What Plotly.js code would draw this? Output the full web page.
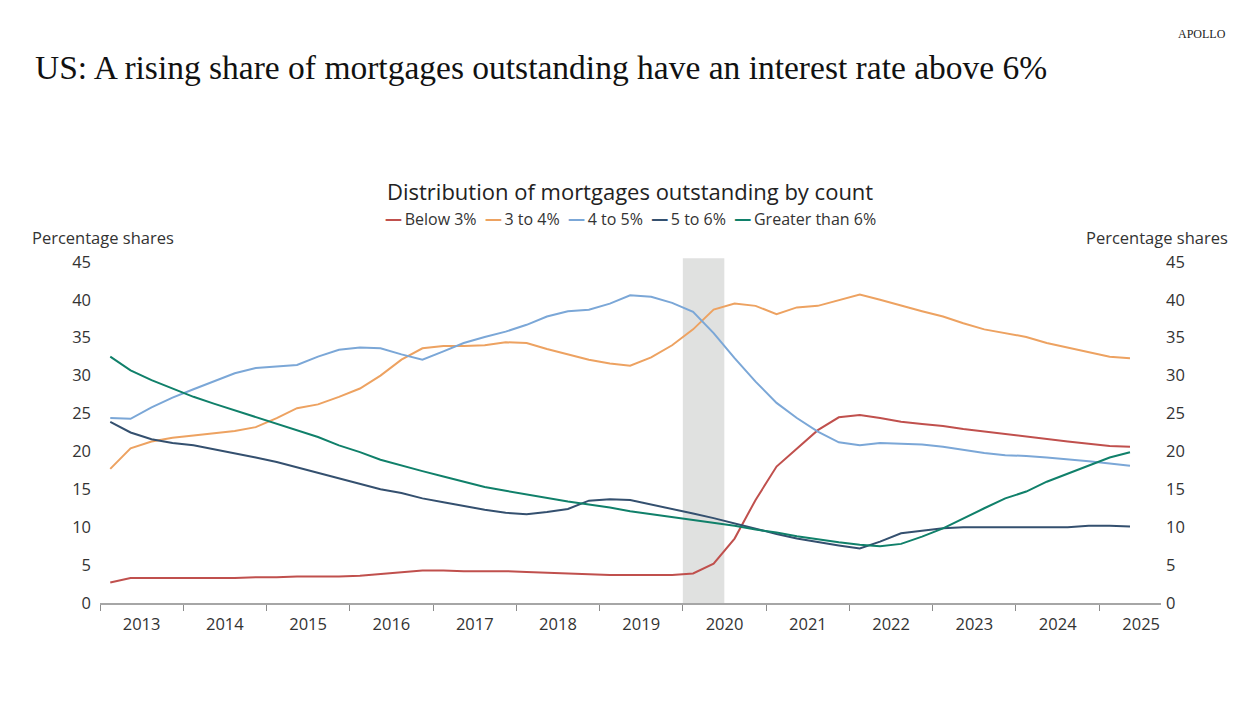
<!DOCTYPE html>
<html>
<head>
<meta charset="utf-8">
<script src="https://cdn.plot.ly/plotly-3.0.1.min.js"></script>
<style>
html,body{margin:0;padding:0;background:#fff;}
#chart{width:1256px;height:702px;}
</style>
</head>
<body>
<div id="chart"></div>
<script>
// Quarterly observations, 2013Q1 .. 2025Q2 (plotted at mid-quarter)
const firstYear = 2013;
const quarterCount = 50;
const quarterMidMonths = ['02-15', '05-15', '08-15', '11-15'];

const seriesNames = ['Below 3%', '3 to 4%', '4 to 5%', '5 to 6%', 'Greater than 6%'];
const seriesColors = ['#c0504d', '#eda261', '#7ba7d7', '#34506f', '#10806a'];

const below3 = [2.7, 3.3, 3.3, 3.3, 3.3, 3.3, 3.3, 3.4, 3.4, 3.5,
                3.5, 3.5, 3.6, 3.8, 4.1, 4.3, 4.3, 4.2, 4.2, 4.2,
                4.1, 4.0, 3.9, 3.8, 3.7, 3.7, 3.7, 3.7, 3.9, 5.2,
                8.5, 13.6, 18.0, 20.4, 22.8, 24.5, 24.8, 24.4, 23.9, 23.6,
                23.35, 22.95, 22.6, 22.25, 22.0, 21.6, 21.3, 21.0, 20.7, 20.6];
const r3to4 = [17.7, 20.4, 21.3, 21.8, 22.1, 22.4, 22.7, 23.2, 24.4, 25.7,
               26.2, 27.2, 28.3, 30.0, 32.1, 33.6, 33.9, 33.9, 34.0, 34.4,
               34.3, 33.5, 32.8, 32.1, 31.6, 31.3, 32.4, 34.0, 36.1, 38.7,
               39.5, 39.2, 38.1, 39.0, 39.2, 40.0, 40.7, 40.0, 39.2, 38.5,
               37.8, 36.9, 36.1, 35.6, 35.1, 34.3, 33.7, 33.0, 32.5, 32.3];
const r4to5 = [24.4, 24.3, 25.8, 27.1, 28.2, 29.2, 30.3, 31.0, 31.2, 31.4,
               32.5, 33.4, 33.7, 33.6, 32.8, 32.1, 33.2, 34.3, 35.1, 35.8,
               36.7, 37.8, 38.5, 38.7, 39.5, 40.6, 40.4, 39.6, 38.4, 35.6,
               32.3, 29.2, 26.4, 24.4, 22.6, 21.2, 20.8, 21.1, 21.0, 20.9,
               20.6, 20.2, 19.8, 19.5, 19.4, 19.2, 19.0, 18.7, 18.4, 18.1];
const r5to6 = [23.9, 22.5, 21.6, 21.1, 20.8, 20.3, 19.7, 19.2, 18.6, 17.9,
               17.2, 16.4, 15.7, 15.0, 14.5, 13.8, 13.3, 12.8, 12.3, 11.9,
               11.7, 12.0, 12.4, 13.5, 13.7, 13.6, 13.0, 12.5, 11.8, 11.2,
               10.5, 9.7, 9.1, 8.5, 8.0, 7.6, 7.2, 8.1, 9.2, 9.5,
               9.85, 10.0, 10.0, 10.0, 9.95, 9.95, 10.0, 10.2, 10.2, 10.1];
const above6 = [32.5, 30.7, 29.4, 28.3, 27.2, 26.3, 25.4, 24.6, 23.7, 22.8,
                21.9, 20.8, 19.9, 18.9, 18.1, 17.4, 16.7, 16.0, 15.3, 14.8,
                14.3, 13.9, 13.4, 13.0, 12.6, 12.1, 11.7, 11.4, 11.0, 10.6,
                10.2, 9.7, 9.3, 8.8, 8.4, 8.0, 7.7, 7.5, 7.8, 8.75,
                9.85, 11.2, 12.5, 13.8, 14.7, 16.0, 17.1, 18.1, 19.2, 19.9];

const recession = ['2020-01-01', '2020-07-01'];
const xRange = ['2013-01-01', '2025-09-28'];
const yTicks = [0, 5, 10, 15, 20, 25, 30, 35, 40, 45];

const dates = [];
for (let i = 0; i < quarterCount; i++) {
  const y = firstYear + Math.floor(i / 4);
  dates.push(y + '-' + quarterMidMonths[i % 4]);
}

const allSeries = [below3, r3to4, r4to5, r5to6, above6];
const traces = allSeries.map((vals, k) => ({
  type: 'scatter', mode: 'lines', x: dates, y: vals, name: seriesNames[k],
  line: {color: seriesColors[k], width: 2}, hoverinfo: 'skip', showlegend: false
}));
// right-hand axis mirror (invisible)
traces.push({type: 'scatter', mode: 'lines', x: dates, y: above6, yaxis: 'y2',
  line: {color: 'rgba(0,0,0,0)', width: 0}, hoverinfo: 'skip', showlegend: false});

const FONT = 'Open Sans, Noto Sans, sans-serif';
const legendText = seriesNames.map((n, k) =>
  '<span style="color:' + seriesColors[k] + ';font-weight:bold;font-size:17px">\u2014</span>\u2009' + n)
  .join('&nbsp;&nbsp;');

const layout = {
  width: 1256, height: 702,
  paper_bgcolor: '#fff', plot_bgcolor: '#fff',
  margin: {l: 100, r: 95, t: 260, b: 99},
  showlegend: false,
  font: {family: FONT, color: '#333', size: 16},
  title: {
    text: 'US: A rising share of mortgages outstanding have an interest rate above 6%',
    font: {family: 'Liberation Serif, DejaVu Serif, serif', size: 33.5, color: '#111'},
    x: 35 / 1256, xanchor: 'left', xref: 'container',
    y: 1 - 67 / 702, yanchor: 'middle', yref: 'container'
  },
  xaxis: {
    type: 'date', range: xRange, tick0: '2013-01-01', dtick: 'M12',
    ticklabelmode: 'period', tickformat: '%Y',
    ticks: 'outside', ticklen: 6, tickcolor: '#8c8c8c', tickwidth: 1,
    showline: true, linecolor: '#a6a6a6', linewidth: 1.5,
    showgrid: false, zeroline: false,
    tickfont: {family: FONT, size: 16.5, color: '#333'}
  },
  yaxis: {
    range: [0, 45.25], tickvals: yTicks, ticks: '', showline: false,
    showgrid: false, zeroline: false, ticklabelstandoff: 8,
    tickfont: {family: FONT, size: 16.5, color: '#333'}
  },
  yaxis2: {
    range: [0, 45.25], tickvals: yTicks, ticks: '', showline: false,
    showgrid: false, zeroline: false, overlaying: 'y', side: 'right',
    ticklabelstandoff: 4,
    tickfont: {family: FONT, size: 16.5, color: '#333'}
  },
  shapes: [{
    type: 'rect', xref: 'x', yref: 'paper', x0: recession[0], x1: recession[1],
    y0: 0, y1: 1.005, fillcolor: '#e0e1e0', line: {width: 0}, layer: 'below'
  }],
  annotations: [
    {text: 'APOLLO', xref: 'paper', yref: 'paper', x: (1228 - 100) / 1061, y: (603 - 34) / 343,
     xanchor: 'right', yanchor: 'middle', showarrow: false,
     font: {family: 'Liberation Serif, serif', size: 12, color: '#222'}},
    {text: 'Distribution of mortgages outstanding by count', xref: 'paper', yref: 'paper',
     x: (630 - 100) / 1061, y: (603 - 191) / 343, xanchor: 'center', yanchor: 'middle',
     showarrow: false, font: {family: FONT, size: 22, color: '#222'}},
    {text: legendText, xref: 'paper', yref: 'paper',
     x: (630 - 100) / 1061, y: (603 - 218) / 343, xanchor: 'center', yanchor: 'middle',
     showarrow: false, font: {family: FONT, size: 16, color: '#333'}},
    {text: 'Percentage shares', xref: 'paper', yref: 'paper',
     x: (30 - 100) / 1061, y: (603 - 237) / 343, xanchor: 'left', yanchor: 'middle',
     showarrow: false, font: {family: FONT, size: 16.5, color: '#333'}},
    {text: 'Percentage shares', xref: 'paper', yref: 'paper',
     x: (1230 - 100) / 1061, y: (603 - 237) / 343, xanchor: 'right', yanchor: 'middle',
     showarrow: false, font: {family: FONT, size: 16.5, color: '#333'}}
  ]
};

Plotly.newPlot('chart', traces, layout, {staticPlot: true, displayModeBar: false});
</script>
</body>
</html>
